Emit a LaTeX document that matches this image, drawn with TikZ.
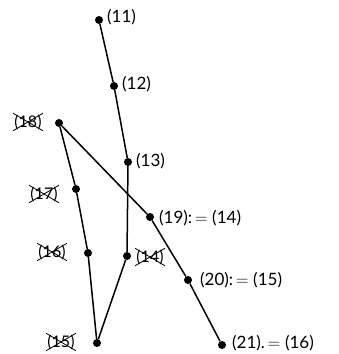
\documentclass[tikz,border=0pt]{standalone}
\usepackage{fontspec}
\setmainfont{Lato}
\usepackage{tikz}
\usetikzlibrary{shapes.misc}

\begin{document}
\begin{tikzpicture}[
  x=1pt, y=-1pt,
  ponto/.style={circle, fill=black, inner sep=0pt, minimum size=8pt},
  rotulo/.style={font=\fontsize{17}{19}\selectfont, inner sep=1pt, anchor=west},
  riscado/.style={font=\fontsize{16}{18}\selectfont, cross out, draw,
                  line width=0.8pt, inner sep=1pt},
  aresta/.style={line width=1.5pt}
]
  \useasboundingbox (0,0) rectangle (338,354);
  % pontos
  \node[ponto] (p11) at (99,20) {};
  \node[ponto] (p12) at (114,86) {};
  \node[ponto] (p13) at (128,162) {};
  \node[ponto] (p14) at (127,256) {};
  \node[ponto] (p15) at (97,343) {};
  \node[ponto] (p16) at (88,253) {};
  \node[ponto] (p17) at (76,189) {};
  \node[ponto] (p18) at (59,123) {};
  \node[ponto] (p19) at (150,217) {};
  \node[ponto] (p20) at (188,280) {};
  \node[ponto] (p21) at (222,345) {};

  % arestas
  \draw[aresta] (p11) -- (p12) -- (p13) -- (p14) -- (p15);
  \draw[aresta] (p15) -- (p16) -- (p17) -- (p18);
  \draw[aresta] (p18) -- (p19) -- (p20) -- (p21);

  % rotulos
  \node[rotulo] (r11) at (106,17) {(11)};
  \node[rotulo] (r12) at (121,84) {(12)};
  \node[rotulo] (r13) at (135,161) {(13)};
  \node[rotulo] (r19) at (158,218) {(19):\,$=$\;(14)};
  \node[rotulo] (r20) at (199,280) {(20):\,$=$\;(15)};
  \node[rotulo] (r21) at (231,343) {(21).\,$=$\;(16)};

  % rotulos riscados
  \node[riscado] (x18) at (28,122) {(18)};
  \node[riscado] (x17) at (44,194) {(17)};
  \node[riscado] (x16) at (52,252) {(16)};
  \node[riscado] (x15) at (61,342) {(15)};
  \node[riscado] (x14) at (150,257) {(14)};
\end{tikzpicture}
\end{document}
